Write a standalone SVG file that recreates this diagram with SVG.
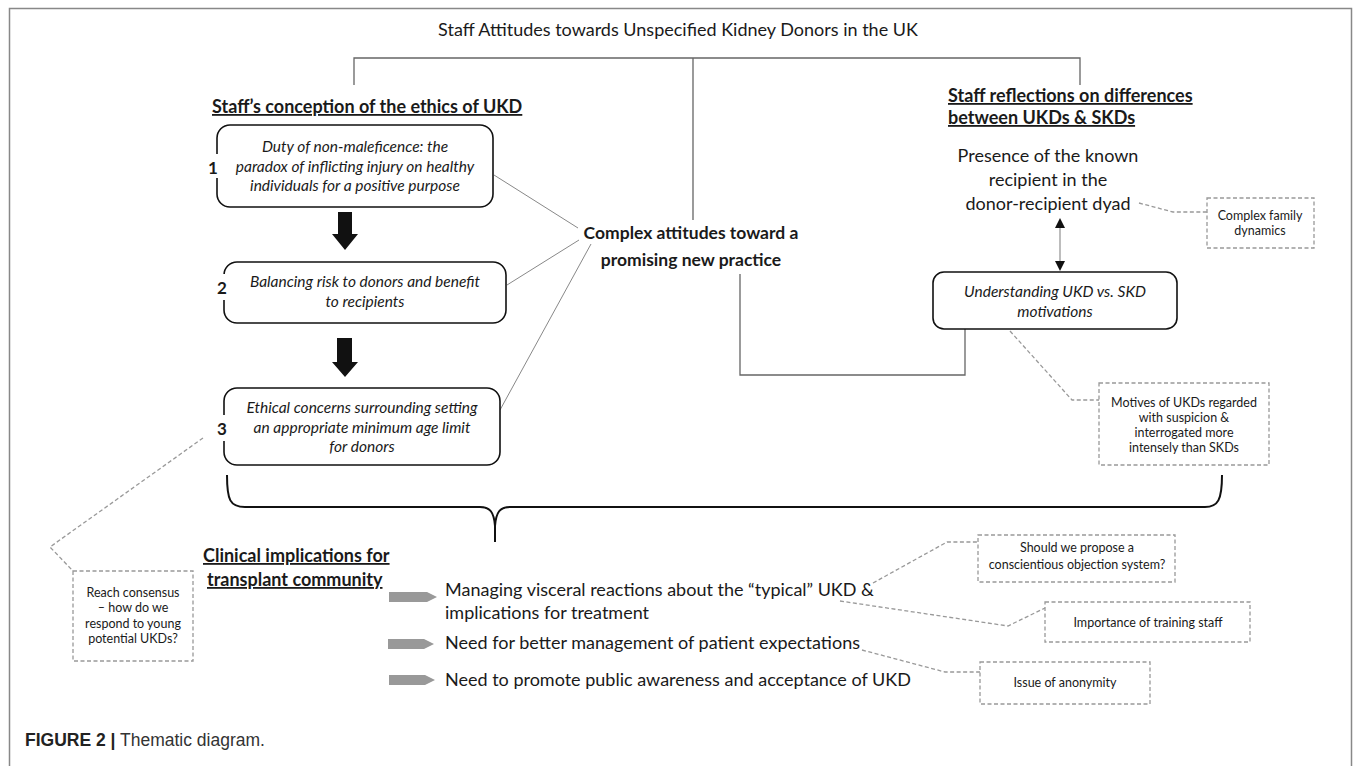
<svg xmlns="http://www.w3.org/2000/svg" width="1355" height="766" viewBox="0 0 1355 766">
<defs>
<style>
text{font-family:Lato,"Open Sans","Liberation Sans",sans-serif;fill:#1a1a1a}
.title{font-size:18px}
.head{font-size:18px;font-weight:bold;text-decoration:underline}
.box{fill:#fff;stroke:#111;stroke-width:1.6}
.bt{font-size:15.5px;font-style:italic;text-anchor:middle}
.num{font-size:17px;font-weight:bold;text-anchor:middle}
.big{font-size:17.5px;font-weight:bold;text-anchor:middle}
.body{font-size:18px}
.dbox{fill:#fff;stroke:#999;stroke-width:1.3;stroke-dasharray:4 2.5}
.dt{font-size:12.5px;text-anchor:middle}
.tree{fill:none;stroke:#666;stroke-width:1.3}
.thin{fill:none;stroke:#888;stroke-width:1}
.dash{fill:none;stroke:#999;stroke-width:1.3;stroke-dasharray:4 2.5}
.garrow{fill:#999}
.barrow{fill:#111}
.cap{font-family:"Liberation Sans",Arial,sans-serif;font-size:17.5px;fill:#333}
</style>
</defs>

<path d="M9.5,766 V8.5 H1351.5 V766" fill="none" stroke="#888" stroke-width="1.5"/>

<text id="title" class="title" x="678" y="36" text-anchor="middle">Staff Attitudes towards Unspecified Kidney Donors in the UK</text>

<g id="connectors">
  <path class="tree" d="M354,85 V58 H1080 V85 M693,58 V220"/>
  <path class="thin" d="M494,175 L578,228 M507,285 L579,240 M500,410 L591,244"/>
  <path class="tree" d="M740,274 V375 H965 V329"/>
  <line x1="1060" y1="226" x2="1060" y2="264" stroke="#999" stroke-width="1.3"/>
  <polygon class="barrow" points="1060,218 1055,228 1065,228"/>
  <polygon class="barrow" points="1060,271 1055,261 1065,261"/>
  <polygon class="barrow" points="338,212 352,212 352,234 358,234 345,250 332,234 338,234"/>
  <polygon class="barrow" points="337,338 352,338 352,362 358,362 345,377 332,362 337,362"/>
  <path class="dash" d="M1139,203 L1173,212 H1207"/>
  <path class="dash" d="M1010,331 L1072,400 H1099"/>
  <path class="dash" d="M203,438 L50,547 L72,570"/>
  <path class="dash" d="M873,583 L947,542 H978"/>
  <path class="dash" d="M840,601 L1008,626 L1045,608"/>
  <path class="dash" d="M862,650 L945,672 H980"/>
  <path d="M227,475 C227,500 230,507 245,507 H480 C490,507 494,512 495,526 V542 M495,526 C496,512 500,507 510,507 H1205 C1218,507 1222,500 1222,475" fill="none" stroke="#111" stroke-width="2"/>
  <polygon class="garrow" points="389,592 427,592 437,597 427,602 389,602"/>
  <polygon class="garrow" points="388,639 424,639 434,644 424,649 388,649"/>
  <polygon class="garrow" points="389,675 425,675 435,680 425,685 389,685"/>
</g>

<g id="heading-left">
  <text class="head" x="212" y="113">Staff’s conception of the ethics of UKD</text>
</g>

<g id="box1">
  <rect class="box" x="217" y="125" width="276" height="82" rx="13"/>
  <rect x="206" y="154" width="15" height="24" fill="#fff"/>
  <text class="num" x="213" y="174">1</text>
  <text class="bt" x="355" y="152">Duty of non-maleficence: the</text>
  <text class="bt" x="355" y="172">paradox of inflicting injury on healthy</text>
  <text class="bt" x="355" y="191">individuals for a positive purpose</text>
</g>

<g id="box2">
  <rect class="box" x="224" y="262" width="282" height="61" rx="13"/>
  <rect x="215" y="274" width="15" height="26" fill="#fff"/>
  <text class="num" x="222" y="294">2</text>
  <text class="bt" x="365" y="287">Balancing risk to donors and benefit</text>
  <text class="bt" x="365" y="307">to recipients</text>
</g>

<g id="box3">
  <rect class="box" x="224" y="388" width="276" height="77" rx="13"/>
  <rect x="215" y="415" width="15" height="26" fill="#fff"/>
  <text class="num" x="222" y="435">3</text>
  <text class="bt" x="362" y="413">Ethical concerns surrounding setting</text>
  <text class="bt" x="362" y="433">an appropriate minimum age limit</text>
  <text class="bt" x="362" y="452">for donors</text>
</g>

<g id="central">
  <text class="big" x="691" y="239">Complex attitudes toward a</text>
  <text class="big" x="691" y="266">promising new practice</text>
</g>

<g id="heading-right">
  <text class="head" x="948" y="102">Staff reflections on differences</text>
  <text class="head" x="948" y="124">between UKDs &amp; SKDs</text>
</g>

<g id="presence">
  <text class="body" x="1048" y="162" text-anchor="middle">Presence of the known</text>
  <text class="body" x="1048" y="186" text-anchor="middle">recipient in the</text>
  <text class="body" x="1048" y="210" text-anchor="middle">donor-recipient dyad</text>
</g>

<g id="family">
  <rect class="dbox" x="1207" y="198" width="107" height="50"/>
  <text class="dt" x="1260" y="220">Complex family</text>
  <text class="dt" x="1260" y="235">dynamics</text>
</g>

<g id="understanding">
  <rect class="box" x="933" y="272" width="244" height="57" rx="11"/>
  <text class="bt" x="1055" y="297">Understanding UKD vs. SKD</text>
  <text class="bt" x="1055" y="317">motivations</text>
</g>

<g id="motives">
  <rect class="dbox" x="1099" y="383" width="170" height="82"/>
  <text class="dt" x="1184" y="407">Motives of UKDs regarded</text>
  <text class="dt" x="1184" y="422">with suspicion &amp;</text>
  <text class="dt" x="1184" y="437">interrogated more</text>
  <text class="dt" x="1184" y="452">intensely than SKDs</text>
</g>

<g id="consensus">
  <rect class="dbox" x="73" y="571" width="120" height="90"/>
  <text class="dt" x="133" y="597">Reach consensus</text>
  <text class="dt" x="133" y="612">– how do we</text>
  <text class="dt" x="133" y="628">respond to young</text>
  <text class="dt" x="133" y="643">potential UKDs?</text>
</g>

<g id="clinical">
  <text class="head" x="203" y="562">Clinical implications for</text>
  <text class="head" x="207" y="586">transplant community</text>
</g>

<g id="item1">
  <text class="body" x="445" y="596">Managing visceral reactions about the “typical” UKD &amp;</text>
  <text class="body" x="445" y="619">implications for treatment</text>
</g>
<g id="item2">
  <text class="body" x="445" y="649">Need for better management of patient expectations</text>
</g>
<g id="item3">
  <text class="body" x="445" y="686">Need to promote public awareness and acceptance of UKD</text>
</g>

<g id="propose">
  <rect class="dbox" x="978" y="535" width="197" height="47"/>
  <text class="dt" x="1077" y="552">Should we propose a</text>
  <text class="dt" x="1077" y="569">conscientious objection system?</text>
</g>

<g id="training">
  <rect class="dbox" x="1045" y="602" width="205" height="40"/>
  <text class="dt" x="1148" y="627">Importance of training staff</text>
</g>

<g id="anonymity">
  <rect class="dbox" x="980" y="662" width="170" height="42"/>
  <text class="dt" x="1065" y="687">Issue of anonymity</text>
</g>

<text class="cap" x="25" y="746"><tspan font-weight="bold" fill="#222">FIGURE 2 |</tspan> Thematic diagram.</text>
</svg>
